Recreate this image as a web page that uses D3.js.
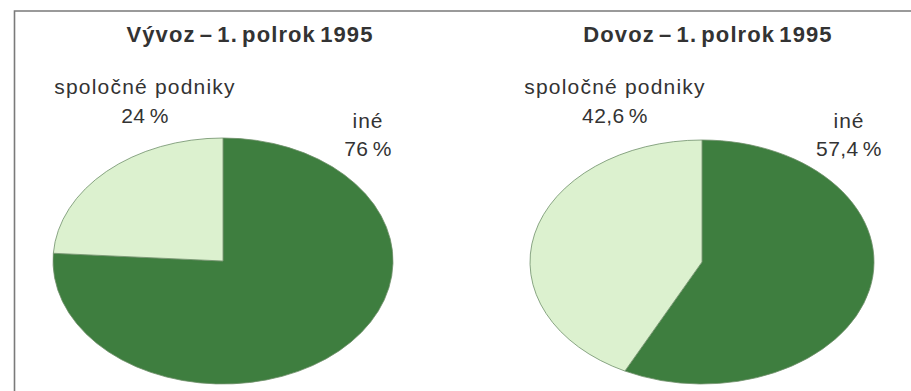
<!DOCTYPE html>
<html>
<head>
<meta charset="utf-8">
<script src="https://cdn.jsdelivr.net/npm/d3@7"></script>
<style>
  body { margin: 0; background: #fff; }
  text { font-family: "Liberation Sans", Arial, sans-serif; fill: #333; }
</style>
</head>
<body>
<svg id="chart" width="911" height="391"></svg>
<script>
const WIDTH = 911;
const HEIGHT = 391;
const R = 100;              // base radius, each pie is stretched into an ellipse

// data
const titles = ["Vývoz – 1. polrok 1995", "Dovoz – 1. polrok 1995"];
const categories = ["iné", "spoločné podniky"];
const exportShares = [76, 24];
const importShares = [57.4, 42.6];
const shareLabels = [["76 %", "24 %"], ["57,4 %", "42,6 %"]];

const colors = d3.scaleOrdinal().domain(categories).range(["#3e7e3f", "#dcf1cf"]);

// layout of each pie
const pies = [
	{ title: titles[0], values: exportShares, labels: shareLabels[0], cx: 223, cy: 261, rx: 170, ry: 123,
	  titleX: 250, otherX: 368, jointX: 145 },
	{ title: titles[1], values: importShares, labels: shareLabels[1], cx: 702, cy: 262, rx: 172, ry: 122,
	  titleX: 708, otherX: 849, jointX: 615 }
];

var svg = d3.select("#chart");

// frame: top and left edges
svg.append("path")
	.attr("d", "M14.5," + HEIGHT + "V11H" + WIDTH)
	.attr("fill", "none")
	.attr("stroke", "#7a7a7a")
	.attr("stroke-width", 1.6);

var pie = d3.pie().sort(null);
var arc = d3.arc().innerRadius(0).outerRadius(R);

pies.forEach(function(p) {
	var g = svg.append("g")
		.attr("transform", "translate(" + p.cx + "," + p.cy + ") scale(" + (p.rx / R) + "," + (p.ry / R) + ")");

	g.selectAll("path")
		.data(pie(p.values))
	  .enter().append("path")
		.attr("d", arc)
		.attr("fill", function(d, i) { return colors(categories[i]); })
		.attr("stroke", "#6f8f6a")
		.attr("stroke-width", 0.8)
		.attr("vector-effect", "non-scaling-stroke");

	// title
	svg.append("text")
		.attr("x", p.titleX)
		.attr("y", 42)
		.attr("text-anchor", "middle")
		.attr("font-size", "22px")
		.attr("font-weight", "bold")
		.attr("letter-spacing", "1.1px")
		.attr("word-spacing", "-3px")
		.text(p.title);

	// joint ventures label
	svg.append("text")
		.attr("x", p.jointX)
		.attr("y", 94)
		.attr("text-anchor", "middle")
		.attr("font-size", "21px")
		.attr("letter-spacing", "1.2px")
		.text(categories[1]);
	svg.append("text")
		.attr("x", p.jointX)
		.attr("y", 123)
		.attr("text-anchor", "middle")
		.attr("font-size", "21px")
		.attr("letter-spacing", "0.4px")
		.attr("word-spacing", "-2px")
		.text(p.labels[1]);

	// other label
	svg.append("text")
		.attr("x", p.otherX)
		.attr("y", 128)
		.attr("text-anchor", "middle")
		.attr("font-size", "21px")
		.attr("letter-spacing", "1px")
		.text(categories[0]);
	svg.append("text")
		.attr("x", p.otherX)
		.attr("y", 156)
		.attr("text-anchor", "middle")
		.attr("font-size", "21px")
		.attr("letter-spacing", "0.4px")
		.attr("word-spacing", "-2px")
		.text(p.labels[0]);
});
</script>
</body>
</html>
